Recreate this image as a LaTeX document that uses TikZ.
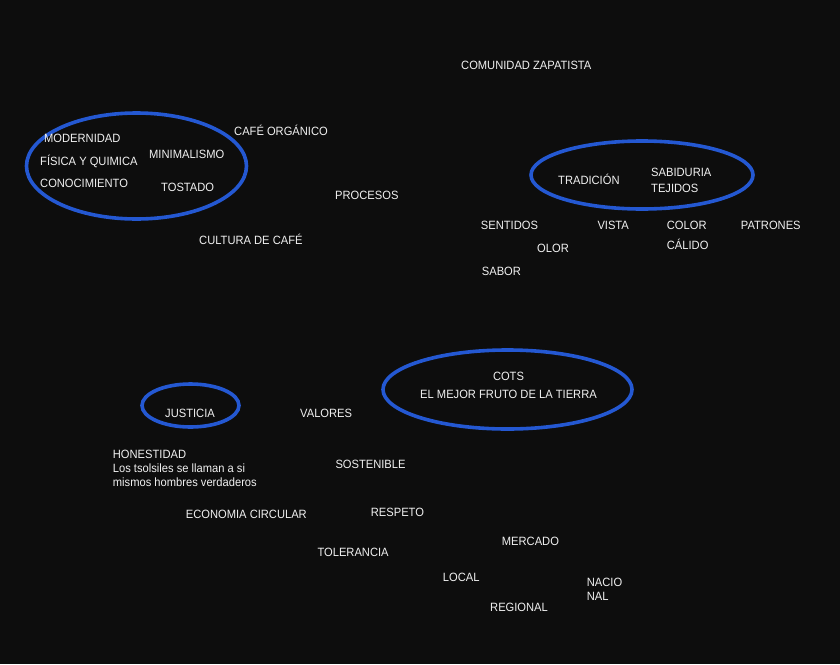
\documentclass[tikz,border=0pt]{standalone}
\usepackage{fontspec}
\setmainfont{Liberation Sans}[FakeStretch=0.93]
\usetikzlibrary{positioning}
\definecolor{FondoColor}{RGB}{13,13,13}
\definecolor{TextoColor}{RGB}{240,240,240}
\definecolor{GrupoColor}{RGB}{36,88,210}
\tikzset{
  palabra/.style={text=TextoColor, inner sep=0pt, anchor=base west, font=\fontsize{12}{14}\selectfont},
  bloque/.style={palabra, anchor=north west, align=left},
  grupo/.style={draw=GrupoColor, line width=3.6pt}
}
\begin{document}
\begin{tikzpicture}[x=1pt, y=-1pt]
    % Background
    \fill[FondoColor] (0,0) rectangle (840,664);

    % Groups
    \draw[grupo] (136.5,166) ellipse [x radius=110, y radius=53];
    \draw[grupo] (642,175) ellipse [x radius=111, y radius=34];
    \draw[grupo] (507.5,389.5) ellipse [x radius=124.5, y radius=39.5];
    \draw[grupo] (190.5,405.5) ellipse [x radius=48.5, y radius=21.5];

    % Top
    \node[palabra] (comunidad) at (461,69.3) {COMUNIDAD ZAPATISTA};
    \node[palabra] (organico) at (234,135.5) {CAFÉ ORGÁNICO};
    \node[palabra] (modernidad) at (44,142) {MODERNIDAD};
    \node[palabra] (fisica) at (40,165.3) {FÍSICA Y QUIMICA};
    \node[palabra] (minimalismo) at (149,158.6) {MINIMALISMO};
    \node[palabra] (conocimiento) at (40,187.6) {CONOCIMIENTO};
    \node[palabra] (tostado) at (161,191) {TOSTADO};
    \node[palabra] (procesos) at (335,199.3) {PROCESOS};
    \node[palabra] (cultura) at (199,244) {CULTURA DE CAFÉ};

    % Right
    \node[palabra] (tradicion) at (558,184.7) {TRADICIÓN};
    \node[bloque] (sabiduria) at (651,168.4) {SABIDURIA\\[2pt]TEJIDOS};
    \node[palabra] (sentidos) at (480.7,229.3) {SENTIDOS};
    \node[palabra] (vista) at (597.3,229.3) {VISTA};
    \node[palabra] (color) at (666.7,229.3) {COLOR};
    \node[palabra] (patrones) at (740.7,229.3) {PATRONES};
    \node[palabra] (olor) at (537,252) {OLOR};
    \node[palabra] (calido) at (666.7,249.8) {CÁLIDO};
    \node[palabra] (sabor) at (481.7,275) {SABOR};

    % Bottom
    \node[bloque, anchor=north, align=center] (cots) at (508.5,372.4) {COTS\\[4pt]EL MEJOR FRUTO DE LA TIERRA};
    \node[palabra] (justicia) at (165,417) {JUSTICIA};
    \node[palabra] (valores) at (300,417) {VALORES};
    \node[bloque] (honestidad) at (112.7,450) {HONESTIDAD\\Los tsolsiles se llaman a si\\mismos hombres verdaderos};
    \node[palabra] (sostenible) at (335.3,468.3) {SOSTENIBLE};
    \node[palabra] (economia) at (185.7,518.6) {ECONOMIA CIRCULAR};
    \node[palabra] (respeto) at (370.7,516) {RESPETO};
    \node[palabra] (tolerancia) at (317.3,556) {TOLERANCIA};
    \node[palabra] (mercado) at (501.7,545) {MERCADO};
    \node[palabra] (local) at (442.7,581) {LOCAL};
    \node[palabra] (regional) at (490,611.6) {REGIONAL};
    \node[bloque] (nacional) at (586.7,578.4) {NACIO\\NAL};
\end{tikzpicture}
\end{document}
